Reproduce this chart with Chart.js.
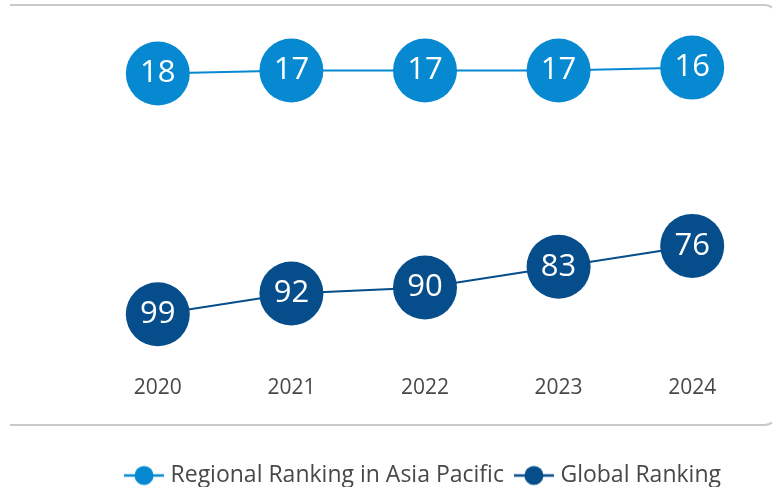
<!DOCTYPE html>
<html>
<head>
<meta charset="utf-8">
<script src="https://cdn.jsdelivr.net/npm/chart.js@4/dist/chart.umd.min.js"></script>
<style>
  html, body { margin: 0; padding: 0; background: #ffffff; overflow: hidden; }
  #wrap { position: relative; width: 772px; height: 487px; overflow: hidden; }
  #frame { position: absolute; left: 10px; top: 4px; width: 770px; height: 422px;
           border: 2px solid #c9c9cc; border-left: none; border-radius: 0 16px 16px 0; box-sizing: border-box; }
  #box { position: absolute; left: 0; top: 0; width: 772px; height: 500px; }
</style>
</head>
<body>
<div id="wrap">
  <div id="frame"></div>
  <div id="box"><canvas id="c" width="772" height="500"></canvas></div>
</div>
<script>
const years = ["2020", "2021", "2022", "2023", "2024"];
const regionalRanking = [18, 17, 17, 17, 16];
const globalRanking = [99, 92, 90, 83, 76];
const seriesNames = ["Regional Ranking in Asia Pacific", "Global Ranking"];
const seriesColors = ["#0689d1", "#064d8c"];
const FONT = "'Open Sans'";

function legendIcon(color) {
  const cv = document.createElement('canvas');
  cv.width = 40; cv.height = 22;
  const g = cv.getContext('2d');
  g.strokeStyle = color; g.lineWidth = 2.5;
  g.beginPath(); g.moveTo(0, 11); g.lineTo(40, 11); g.stroke();
  g.fillStyle = color;
  g.beginPath(); g.arc(20, 11, 9.5, 0, Math.PI * 2); g.fill();
  return cv;
}

const valueLabels = {
  id: 'valueLabels',
  afterDatasetsDraw(chart) {
    const ctx = chart.ctx;
    ctx.save();
    ctx.fillStyle = '#ffffff';
    ctx.font = '31px ' + FONT;
    ctx.textAlign = 'center';
    ctx.textBaseline = 'middle';
    chart.data.datasets.forEach((ds, i) => {
      chart.getDatasetMeta(i).data.forEach((pt, j) => {
        ctx.fillText(String(ds.data[j]), pt.x, pt.y);
      });
    });
    ctx.restore();
  }
};

new Chart(document.getElementById('c'), {
  type: 'line',
  data: {
    labels: years,
    datasets: [
      { label: seriesNames[0], data: regionalRanking, borderColor: seriesColors[0], backgroundColor: seriesColors[0],
        pointRadius: 32, pointHoverRadius: 32, borderWidth: 2, pointBorderWidth: 0, clip: false },
      { label: seriesNames[1], data: globalRanking, borderColor: seriesColors[1], backgroundColor: seriesColors[1],
        pointRadius: 32, pointHoverRadius: 32, borderWidth: 2, pointBorderWidth: 0, clip: false }
    ]
  },
  options: {
    responsive: false,
    animation: false,
    events: [],
    layout: { autoPadding: false, padding: { left: 91, right: 13, top: 20, bottom: 3 } },
    scales: {
      x: {
        offset: true,
        grid: { display: false, drawTicks: false },
        border: { display: false },
        ticks: { color: '#484848', font: { family: FONT, size: 21 }, padding: 28 },
        afterFit(scale) { scale.height = 102; }
      },
      y: {
        display: false,
        reverse: true,
        min: 0,
        max: 110
      }
    },
    plugins: {
      tooltip: { enabled: false },
      legend: {
        position: 'bottom',
        labels: {
          color: '#484848',
          font: { family: FONT, size: 23 },
          usePointStyle: true,
          pointStyleWidth: 30,
          padding: 15,
          generateLabels(chart) {
            return chart.data.datasets.map((ds, i) => ({
              text: ds.label,
              pointStyle: legendIcon(seriesColors[i]),
              fillStyle: seriesColors[i],
              strokeStyle: seriesColors[i],
              fontColor: '#484848',
              lineWidth: 0,
              hidden: false,
              datasetIndex: i
            }));
          }
        }
      }
    }
  },
  plugins: [valueLabels]
});
</script>
</body>
</html>
